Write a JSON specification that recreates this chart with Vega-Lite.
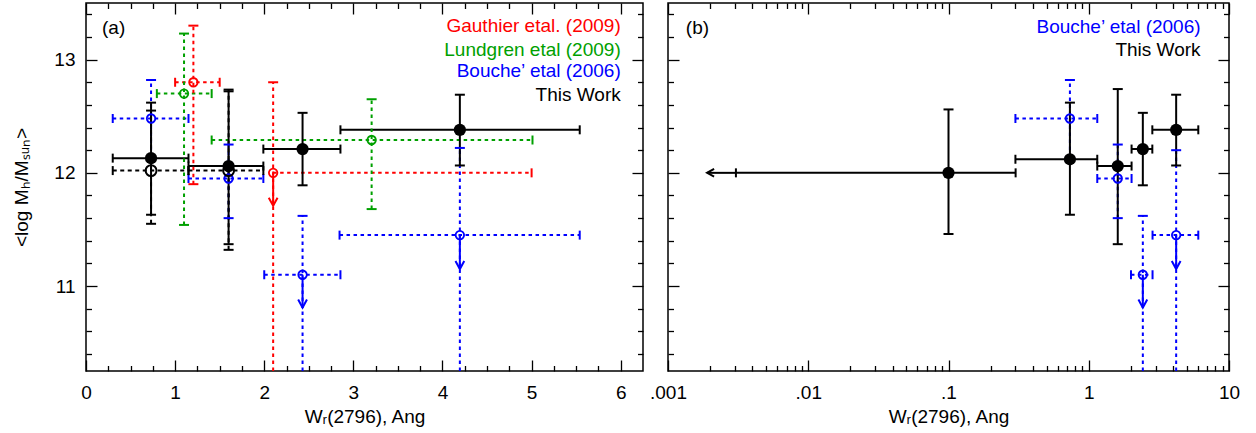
{
  "$schema": "https://vega.github.io/schema/vega-lite/v6.json",
  "padding": {"left": 12, "top": 1, "right": 5, "bottom": 2},
  "background": "white",
  "config": {
    "view": {"stroke": "black", "strokeWidth": 1.5},
    "font": "Liberation Sans",
    "text": {"font": "Liberation Sans", "fontWeight": "normal"},
    "axis": {"domain": false, "grid": false, "labelFont": "Liberation Sans", "labelFontSize": 19, "labelColor": "black", "titleFont": "Liberation Sans", "titleFontSize": 19, "titleFontWeight": "normal", "titleColor": "black", "tickColor": "black", "tickWidth": 1.3, "labelFlush": false, "labelOverlap": false}
  },
  "datasets": {
    "a": [
      {"s": "G", "x": 1.205, "y": 12.80, "xlo": 1.0, "xhi": 1.5, "ylo": 11.90, "yhi": 13.30},
      {"s": "G", "x": 2.10, "y": 12.00, "xlo": 2.10, "xhi": 5.0, "ylo": 10.25, "yhi": 12.80, "ylim": 11.71},
      {"s": "L", "x": 1.10, "y": 12.70, "xlo": 0.795, "xhi": 1.41, "ylo": 11.54, "yhi": 13.23},
      {"s": "L", "x": 3.205, "y": 12.29, "xlo": 1.41, "xhi": 5.01, "ylo": 11.68, "yhi": 12.65},
      {"s": "B", "x": 0.73, "y": 12.48, "xlo": 0.30, "xhi": 1.15, "ylo": 12.14, "yhi": 12.82},
      {"s": "B", "x": 1.60, "y": 11.95, "xlo": 1.15, "xhi": 1.99, "ylo": 11.60, "yhi": 12.25},
      {"s": "B", "x": 2.43, "y": 11.10, "xlo": 2.0, "xhi": 2.855, "ylo": 10.25, "yhi": 11.62, "ylim": 10.81},
      {"s": "B", "x": 4.195, "y": 11.45, "xlo": 2.845, "xhi": 5.54, "ylo": 10.25, "yhi": 12.22, "ylim": 11.15},
      {"s": "O", "x": 0.73, "y": 12.02, "xlo": 0.30, "xhi": 1.15, "ylo": 11.55, "yhi": 12.55},
      {"s": "O", "x": 1.60, "y": 12.02, "xlo": 1.15, "xhi": 1.99, "ylo": 11.32, "yhi": 12.72},
      {"s": "T", "x": 0.73, "y": 12.13, "xlo": 0.30, "xhi": 1.15, "ylo": 11.63, "yhi": 12.62},
      {"s": "T", "x": 1.60, "y": 12.06, "xlo": 1.15, "xhi": 1.99, "ylo": 11.37, "yhi": 12.735},
      {"s": "T", "x": 2.43, "y": 12.21, "xlo": 1.99, "xhi": 2.855, "ylo": 11.89, "yhi": 12.53},
      {"s": "T", "x": 4.195, "y": 12.38, "xlo": 2.855, "xhi": 5.54, "ylo": 12.065, "yhi": 12.69}
    ],
    "b": [
      {"s": "B", "x": 0.734, "y": 12.48, "xlo": 0.30, "xhi": 1.15, "ylo": 12.14, "yhi": 12.82},
      {"s": "B", "x": 1.61, "y": 11.95, "xlo": 1.15, "xhi": 2.02, "ylo": 11.60, "yhi": 12.25},
      {"s": "B", "x": 2.43, "y": 11.10, "xlo": 2.0, "xhi": 2.85, "ylo": 10.25, "yhi": 11.62, "ylim": 10.81},
      {"s": "B", "x": 4.2, "y": 11.45, "xlo": 2.85, "xhi": 6.04, "ylo": 10.25, "yhi": 12.20, "ylim": 11.15},
      {"s": "T", "x": 0.1, "y": 12.0, "xlo": 0.00305, "xhi": 0.301, "ylo": 11.46, "yhi": 12.56, "xlim": 0.0019},
      {"s": "T", "x": 0.734, "y": 12.12, "xlo": 0.30, "xhi": 1.15, "ylo": 11.63, "yhi": 12.62},
      {"s": "T", "x": 1.61, "y": 12.06, "xlo": 1.15, "xhi": 2.02, "ylo": 11.37, "yhi": 12.74},
      {"s": "T", "x": 2.43, "y": 12.21, "xlo": 2.02, "xhi": 2.84, "ylo": 11.89, "yhi": 12.53},
      {"s": "T", "x": 4.2, "y": 12.38, "xlo": 2.84, "xhi": 6.04, "ylo": 12.065, "yhi": 12.69}
    ],
    "one": [{}]
  },
  "spacing": 25,
  "bounds": "flush",
  "hconcat": [
    {
      "width": 557,
      "height": 368,
      "data": {"name": "a"},
      "resolve": {"axis": {"x": "independent", "y": "independent"}},
      "layer": [
        {
          "mark": {"type": "rule", "strokeWidth": 2},
          "encoding": {
            "x": {"field": "xlo", "type": "quantitative", "scale": {"domain": [0, 6.25], "nice": false, "zero": false}, "axis": {"orient": "bottom", "values": [0, 1, 2, 3, 4, 5, 6], "format": "d", "ticks": false, "labelPadding": 12, "title": "Wᵣ(2796), Ang", "titlePadding": 5}},
            "x2": {"field": "xhi"},
            "y": {"field": "y", "type": "quantitative", "scale": {"domain": [10.25, 13.5], "nice": false, "zero": false}, "axis": {"orient": "left", "values": [11, 12, 13], "ticks": false, "labelPadding": 11, "title": "<log Mₕ/Mₛᵤₙ>", "titlePadding": 22}},
            "color": {"field": "s", "type": "nominal", "scale": {"domain": ["G", "L", "B", "O", "T"], "range": ["#ff0000", "#00a000", "#0000ff", "#000000", "#000000"]}, "legend": null},
            "strokeDash": {"field": "s", "type": "nominal", "scale": {"domain": ["G", "L", "B", "O", "T"], "range": [[3.5, 3.5], [3.5, 3.5], [3.5, 3.5], [4, 3.5], [1, 0]]}, "legend": null}
          }
        },
        {
          "mark": {"type": "rule", "strokeWidth": 2},
          "encoding": {
            "x": {"field": "x", "type": "quantitative", "scale": {"domain": [0, 6.25], "nice": false, "zero": false}, "axis": {"orient": "bottom", "values": [0, 1, 2, 3, 4, 5, 6], "labels": false, "tickSize": -11, "title": null}},
            "y": {"field": "ylo", "type": "quantitative", "scale": {"domain": [10.25, 13.5], "nice": false, "zero": false}, "axis": {"orient": "left", "values": [11, 12, 13], "labels": false, "tickSize": -11, "title": null}},
            "y2": {"field": "yhi"},
            "color": {"field": "s", "type": "nominal", "scale": {"domain": ["G", "L", "B", "O", "T"], "range": ["#ff0000", "#00a000", "#0000ff", "#000000", "#000000"]}, "legend": null},
            "strokeDash": {"field": "s", "type": "nominal", "scale": {"domain": ["G", "L", "B", "O", "T"], "range": [[2, 2.5], [2, 2.5], [2, 2.5], [4, 3], [1, 0]]}, "legend": null}
          }
        },
        {
          "transform": [{"fold": ["xlo", "xhi"], "as": ["k", "xe"]}, {"filter": "datum.xe != datum.x"}],
          "mark": {"type": "tick", "orient": "vertical", "size": 9, "thickness": 2, "opacity": 1},
          "encoding": {
            "x": {"field": "xe", "type": "quantitative", "scale": {"domain": [0, 6.25], "nice": false, "zero": false}, "axis": {"orient": "bottom", "values": [0.25, 0.5, 0.75, 1.25, 1.5, 1.75, 2.25, 2.5, 2.75, 3.25, 3.5, 3.75, 4.25, 4.5, 4.75, 5.25, 5.5, 5.75], "labels": false, "tickSize": -5.5, "title": null}},
            "y": {"field": "y", "type": "quantitative", "scale": {"domain": [10.25, 13.5], "nice": false, "zero": false}, "axis": {"orient": "left", "values": [10.4, 10.6, 10.8, 11.2, 11.4, 11.6, 11.8, 12.2, 12.4, 12.6, 12.8, 13.2, 13.4], "labels": false, "tickSize": -5.5, "title": null}},
            "color": {"field": "s", "type": "nominal", "scale": {"domain": ["G", "L", "B", "O", "T"], "range": ["#ff0000", "#00a000", "#0000ff", "#000000", "#000000"]}, "legend": null}
          }
        },
        {
          "transform": [{"fold": ["ylo", "yhi"], "as": ["k", "ye"]}, {"filter": "datum.ye > 10.3"}],
          "mark": {"type": "tick", "orient": "horizontal", "size": 10, "thickness": 2, "opacity": 1},
          "encoding": {
            "x": {"field": "x", "type": "quantitative", "scale": {"domain": [0, 6.25], "nice": false, "zero": false}, "axis": {"orient": "top", "values": [0, 1, 2, 3, 4, 5, 6], "labels": false, "tickSize": -11, "title": null}},
            "y": {"field": "ye", "type": "quantitative", "scale": {"domain": [10.25, 13.5], "nice": false, "zero": false}, "axis": {"orient": "right", "values": [11, 12, 13], "labels": false, "tickSize": -11, "title": null}},
            "color": {"field": "s", "type": "nominal", "scale": {"domain": ["G", "L", "B", "O", "T"], "range": ["#ff0000", "#00a000", "#0000ff", "#000000", "#000000"]}, "legend": null}
          }
        },
        {
          "transform": [{"filter": "isValid(datum.ylim)"}],
          "mark": {"type": "rule", "strokeWidth": 2},
          "encoding": {
            "x": {"field": "x", "type": "quantitative", "scale": {"domain": [0, 6.25], "nice": false, "zero": false}, "axis": {"orient": "top", "values": [0.25, 0.5, 0.75, 1.25, 1.5, 1.75, 2.25, 2.5, 2.75, 3.25, 3.5, 3.75, 4.25, 4.5, 4.75, 5.25, 5.5, 5.75], "labels": false, "tickSize": -5.5, "title": null}},
            "y": {"field": "y", "type": "quantitative", "scale": {"domain": [10.25, 13.5], "nice": false, "zero": false}, "axis": {"orient": "right", "values": [10.4, 10.6, 10.8, 11.2, 11.4, 11.6, 11.8, 12.2, 12.4, 12.6, 12.8, 13.2, 13.4], "labels": false, "tickSize": -5.5, "title": null}},
            "y2": {"field": "ylim"},
            "color": {"field": "s", "type": "nominal", "scale": {"domain": ["G", "L", "B", "O", "T"], "range": ["#ff0000", "#00a000", "#0000ff", "#000000", "#000000"]}, "legend": null}
          }
        },
        {
          "transform": [{"filter": "isValid(datum.ylim)"}],
          "mark": {"type": "point", "shape": "M-0.55,-1L0,0L0.55,-1", "filled": false, "strokeWidth": 2, "size": 256, "opacity": 1},
          "encoding": {
            "x": {"field": "x", "type": "quantitative", "scale": {"domain": [0, 6.25], "nice": false, "zero": false}, "axis": null},
            "y": {"field": "ylim", "type": "quantitative", "scale": {"domain": [10.25, 13.5], "nice": false, "zero": false}, "axis": null},
            "color": {"field": "s", "type": "nominal", "scale": {"domain": ["G", "L", "B", "O", "T"], "range": ["#ff0000", "#00a000", "#0000ff", "#000000", "#000000"]}, "legend": null}
          }
        },
        {
          "transform": [{"filter": "datum.s == 'G' || datum.s == 'L' || datum.s == 'B'"}],
          "mark": {"type": "point", "shape": "circle", "filled": false, "strokeWidth": 1.8, "size": 72, "opacity": 1},
          "encoding": {
            "x": {"field": "x", "type": "quantitative", "scale": {"domain": [0, 6.25], "nice": false, "zero": false}, "axis": null},
            "y": {"field": "y", "type": "quantitative", "scale": {"domain": [10.25, 13.5], "nice": false, "zero": false}, "axis": null},
            "color": {"field": "s", "type": "nominal", "scale": {"domain": ["G", "L", "B", "O", "T"], "range": ["#ff0000", "#00a000", "#0000ff", "#000000", "#000000"]}, "legend": null}
          }
        },
        {
          "transform": [{"filter": "datum.s == 'O'"}],
          "mark": {"type": "point", "shape": "circle", "filled": false, "strokeWidth": 2, "size": 119, "opacity": 1, "color": "black"},
          "encoding": {
            "x": {"field": "x", "type": "quantitative", "scale": {"domain": [0, 6.25], "nice": false, "zero": false}, "axis": null},
            "y": {"field": "y", "type": "quantitative", "scale": {"domain": [10.25, 13.5], "nice": false, "zero": false}, "axis": null}
          }
        },
        {
          "transform": [{"filter": "datum.s == 'T'"}],
          "mark": {"type": "point", "shape": "circle", "filled": true, "size": 150, "opacity": 1, "color": "black"},
          "encoding": {
            "x": {"field": "x", "type": "quantitative", "scale": {"domain": [0, 6.25], "nice": false, "zero": false}, "axis": null},
            "y": {"field": "y", "type": "quantitative", "scale": {"domain": [10.25, 13.5], "nice": false, "zero": false}, "axis": null}
          }
        },
        {
          "data": {"name": "one"},
          "mark": {"type": "text", "align": "left", "baseline": "middle", "fontSize": 19, "fill": "black", "text": "(a)"},
          "encoding": {
            "x": {"datum": 0.18, "type": "quantitative", "scale": {"domain": [0, 6.25], "nice": false, "zero": false}, "axis": null},
            "y": {"datum": 13.28, "type": "quantitative", "scale": {"domain": [10.25, 13.5], "nice": false, "zero": false}, "axis": null}
          }
        },
        {
          "data": {"name": "one"},
          "mark": {"type": "text", "align": "right", "baseline": "middle", "fontSize": 19, "fill": "#ff0000", "text": "Gauthier etal. (2009)"},
          "encoding": {
            "x": {"datum": 6.0, "type": "quantitative", "scale": {"domain": [0, 6.25], "nice": false, "zero": false}, "axis": null},
            "y": {"datum": 13.30, "type": "quantitative", "scale": {"domain": [10.25, 13.5], "nice": false, "zero": false}, "axis": null}
          }
        },
        {
          "data": {"name": "one"},
          "mark": {"type": "text", "align": "right", "baseline": "middle", "fontSize": 19, "fill": "#00a000", "text": "Lundgren etal (2009)"},
          "encoding": {
            "x": {"datum": 6.0, "type": "quantitative", "scale": {"domain": [0, 6.25], "nice": false, "zero": false}, "axis": null},
            "y": {"datum": 13.088, "type": "quantitative", "scale": {"domain": [10.25, 13.5], "nice": false, "zero": false}, "axis": null}
          }
        },
        {
          "data": {"name": "one"},
          "mark": {"type": "text", "align": "right", "baseline": "middle", "fontSize": 19, "fill": "#0000ff", "text": "Bouche’ etal (2006)"},
          "encoding": {
            "x": {"datum": 6.0, "type": "quantitative", "scale": {"domain": [0, 6.25], "nice": false, "zero": false}, "axis": null},
            "y": {"datum": 12.897, "type": "quantitative", "scale": {"domain": [10.25, 13.5], "nice": false, "zero": false}, "axis": null}
          }
        },
        {
          "data": {"name": "one"},
          "mark": {"type": "text", "align": "right", "baseline": "middle", "fontSize": 19, "fill": "black", "text": "This Work"},
          "encoding": {
            "x": {"datum": 6.0, "type": "quantitative", "scale": {"domain": [0, 6.25], "nice": false, "zero": false}, "axis": null},
            "y": {"datum": 12.69, "type": "quantitative", "scale": {"domain": [10.25, 13.5], "nice": false, "zero": false}, "axis": null}
          }
        }
      ]
    },
    {
      "width": 561,
      "height": 368,
      "data": {"name": "b"},
      "resolve": {"axis": {"x": "independent", "y": "independent"}},
      "layer": [
        {
          "mark": {"type": "rule", "strokeWidth": 2},
          "encoding": {
            "x": {"field": "xlo", "type": "quantitative", "scale": {"type": "log", "domain": [0.001, 10], "nice": false}, "axis": {"orient": "bottom", "values": [0.001, 0.01, 0.1, 1, 10], "labelExpr": "datum.value < 0.005 ? '.001' : datum.value < 0.05 ? '.01' : datum.value < 0.5 ? '.1' : datum.value < 5 ? '1' : '10'", "ticks": false, "labelPadding": 12, "title": "Wᵣ(2796), Ang", "titlePadding": 5}},
            "x2": {"field": "xhi"},
            "y": {"field": "y", "type": "quantitative", "scale": {"domain": [10.25, 13.5], "nice": false, "zero": false}, "axis": null},
            "color": {"field": "s", "type": "nominal", "scale": {"domain": ["G", "L", "B", "O", "T"], "range": ["#ff0000", "#00a000", "#0000ff", "#000000", "#000000"]}, "legend": null},
            "strokeDash": {"field": "s", "type": "nominal", "scale": {"domain": ["G", "L", "B", "O", "T"], "range": [[3.5, 3.5], [3.5, 3.5], [3.5, 3.5], [4, 3.5], [1, 0]]}, "legend": null}
          }
        },
        {
          "mark": {"type": "rule", "strokeWidth": 2},
          "encoding": {
            "x": {"field": "x", "type": "quantitative", "scale": {"type": "log", "domain": [0.001, 10], "nice": false}, "axis": {"orient": "bottom", "values": [0.001, 0.01, 0.1, 1, 10], "labels": false, "tickSize": -11, "title": null}},
            "y": {"field": "ylo", "type": "quantitative", "scale": {"domain": [10.25, 13.5], "nice": false, "zero": false}, "axis": {"orient": "left", "values": [11, 12, 13], "labels": false, "tickSize": -11, "title": null}},
            "y2": {"field": "yhi"},
            "color": {"field": "s", "type": "nominal", "scale": {"domain": ["G", "L", "B", "O", "T"], "range": ["#ff0000", "#00a000", "#0000ff", "#000000", "#000000"]}, "legend": null},
            "strokeDash": {"field": "s", "type": "nominal", "scale": {"domain": ["G", "L", "B", "O", "T"], "range": [[2, 2.5], [2, 2.5], [2, 2.5], [4, 3], [1, 0]]}, "legend": null}
          }
        },
        {
          "transform": [{"fold": ["xlo", "xhi"], "as": ["k", "xe"]}, {"filter": "datum.xe != datum.x"}],
          "mark": {"type": "tick", "orient": "vertical", "size": 9, "thickness": 2, "opacity": 1},
          "encoding": {
            "x": {"field": "xe", "type": "quantitative", "scale": {"type": "log", "domain": [0.001, 10], "nice": false}, "axis": {"orient": "bottom", "values": [0.002, 0.003, 0.004, 0.005, 0.006, 0.007, 0.008, 0.009, 0.02, 0.03, 0.04, 0.05, 0.06, 0.07, 0.08, 0.09, 0.2, 0.3, 0.4, 0.5, 0.6, 0.7, 0.8, 0.9, 2, 3, 4, 5, 6, 7, 8, 9], "labels": false, "tickSize": -5.5, "title": null}},
            "y": {"field": "y", "type": "quantitative", "scale": {"domain": [10.25, 13.5], "nice": false, "zero": false}, "axis": {"orient": "left", "values": [10.4, 10.6, 10.8, 11.2, 11.4, 11.6, 11.8, 12.2, 12.4, 12.6, 12.8, 13.2, 13.4], "labels": false, "tickSize": -5.5, "title": null}},
            "color": {"field": "s", "type": "nominal", "scale": {"domain": ["G", "L", "B", "O", "T"], "range": ["#ff0000", "#00a000", "#0000ff", "#000000", "#000000"]}, "legend": null}
          }
        },
        {
          "transform": [{"fold": ["ylo", "yhi"], "as": ["k", "ye"]}, {"filter": "datum.ye > 10.3"}],
          "mark": {"type": "tick", "orient": "horizontal", "size": 10, "thickness": 2, "opacity": 1},
          "encoding": {
            "x": {"field": "x", "type": "quantitative", "scale": {"type": "log", "domain": [0.001, 10], "nice": false}, "axis": {"orient": "top", "values": [0.001, 0.01, 0.1, 1, 10], "labels": false, "tickSize": -11, "title": null}},
            "y": {"field": "ye", "type": "quantitative", "scale": {"domain": [10.25, 13.5], "nice": false, "zero": false}, "axis": {"orient": "right", "values": [11, 12, 13], "labels": false, "tickSize": -11, "title": null}},
            "color": {"field": "s", "type": "nominal", "scale": {"domain": ["G", "L", "B", "O", "T"], "range": ["#ff0000", "#00a000", "#0000ff", "#000000", "#000000"]}, "legend": null}
          }
        },
        {
          "transform": [{"filter": "isValid(datum.ylim)"}],
          "mark": {"type": "rule", "strokeWidth": 2},
          "encoding": {
            "x": {"field": "x", "type": "quantitative", "scale": {"type": "log", "domain": [0.001, 10], "nice": false}, "axis": {"orient": "top", "values": [0.002, 0.003, 0.004, 0.005, 0.006, 0.007, 0.008, 0.009, 0.02, 0.03, 0.04, 0.05, 0.06, 0.07, 0.08, 0.09, 0.2, 0.3, 0.4, 0.5, 0.6, 0.7, 0.8, 0.9, 2, 3, 4, 5, 6, 7, 8, 9], "labels": false, "tickSize": -5.5, "title": null}},
            "y": {"field": "y", "type": "quantitative", "scale": {"domain": [10.25, 13.5], "nice": false, "zero": false}, "axis": {"orient": "right", "values": [10.4, 10.6, 10.8, 11.2, 11.4, 11.6, 11.8, 12.2, 12.4, 12.6, 12.8, 13.2, 13.4], "labels": false, "tickSize": -5.5, "title": null}},
            "y2": {"field": "ylim"},
            "color": {"field": "s", "type": "nominal", "scale": {"domain": ["G", "L", "B", "O", "T"], "range": ["#ff0000", "#00a000", "#0000ff", "#000000", "#000000"]}, "legend": null}
          }
        },
        {
          "transform": [{"filter": "isValid(datum.ylim)"}],
          "mark": {"type": "point", "shape": "M-0.55,-1L0,0L0.55,-1", "filled": false, "strokeWidth": 2, "size": 256, "opacity": 1},
          "encoding": {
            "x": {"field": "x", "type": "quantitative", "scale": {"type": "log", "domain": [0.001, 10], "nice": false}, "axis": null},
            "y": {"field": "ylim", "type": "quantitative", "scale": {"domain": [10.25, 13.5], "nice": false, "zero": false}, "axis": null},
            "color": {"field": "s", "type": "nominal", "scale": {"domain": ["G", "L", "B", "O", "T"], "range": ["#ff0000", "#00a000", "#0000ff", "#000000", "#000000"]}, "legend": null}
          }
        },
        {
          "transform": [{"filter": "isValid(datum.xlim)"}],
          "mark": {"type": "rule", "strokeWidth": 2, "color": "black"},
          "encoding": {
            "x": {"field": "xlim", "type": "quantitative", "scale": {"type": "log", "domain": [0.001, 10], "nice": false}, "axis": null},
            "x2": {"field": "xlo"},
            "y": {"field": "y", "type": "quantitative", "scale": {"domain": [10.25, 13.5], "nice": false, "zero": false}, "axis": null}
          }
        },
        {
          "transform": [{"filter": "isValid(datum.xlim)"}],
          "mark": {"type": "point", "shape": "M1,-0.55L0,0L1,0.55", "filled": false, "strokeWidth": 2, "size": 196, "opacity": 1, "color": "black"},
          "encoding": {
            "x": {"field": "xlim", "type": "quantitative", "scale": {"type": "log", "domain": [0.001, 10], "nice": false}, "axis": null},
            "y": {"field": "y", "type": "quantitative", "scale": {"domain": [10.25, 13.5], "nice": false, "zero": false}, "axis": null}
          }
        },
        {
          "transform": [{"filter": "datum.s == 'B'"}],
          "mark": {"type": "point", "shape": "circle", "filled": false, "strokeWidth": 1.8, "size": 72, "opacity": 1, "color": "#0000ff"},
          "encoding": {
            "x": {"field": "x", "type": "quantitative", "scale": {"type": "log", "domain": [0.001, 10], "nice": false}, "axis": null},
            "y": {"field": "y", "type": "quantitative", "scale": {"domain": [10.25, 13.5], "nice": false, "zero": false}, "axis": null}
          }
        },
        {
          "transform": [{"filter": "datum.s == 'T'"}],
          "mark": {"type": "point", "shape": "circle", "filled": true, "size": 150, "opacity": 1, "color": "black"},
          "encoding": {
            "x": {"field": "x", "type": "quantitative", "scale": {"type": "log", "domain": [0.001, 10], "nice": false}, "axis": null},
            "y": {"field": "y", "type": "quantitative", "scale": {"domain": [10.25, 13.5], "nice": false, "zero": false}, "axis": null}
          }
        },
        {
          "data": {"name": "one"},
          "mark": {"type": "text", "align": "left", "baseline": "middle", "fontSize": 19, "fill": "black", "text": "(b)"},
          "encoding": {
            "x": {"datum": 0.00134, "type": "quantitative", "scale": {"type": "log", "domain": [0.001, 10], "nice": false}, "axis": null},
            "y": {"datum": 13.28, "type": "quantitative", "scale": {"domain": [10.25, 13.5], "nice": false, "zero": false}, "axis": null}
          }
        },
        {
          "data": {"name": "one"},
          "mark": {"type": "text", "align": "right", "baseline": "middle", "fontSize": 19, "fill": "#0000ff", "text": "Bouche’ etal (2006)"},
          "encoding": {
            "x": {"datum": 6.27, "type": "quantitative", "scale": {"type": "log", "domain": [0.001, 10], "nice": false}, "axis": null},
            "y": {"datum": 13.29, "type": "quantitative", "scale": {"domain": [10.25, 13.5], "nice": false, "zero": false}, "axis": null}
          }
        },
        {
          "data": {"name": "one"},
          "mark": {"type": "text", "align": "right", "baseline": "middle", "fontSize": 19, "fill": "black", "text": "This Work"},
          "encoding": {
            "x": {"datum": 6.27, "type": "quantitative", "scale": {"type": "log", "domain": [0.001, 10], "nice": false}, "axis": null},
            "y": {"datum": 13.088, "type": "quantitative", "scale": {"domain": [10.25, 13.5], "nice": false, "zero": false}, "axis": null}
          }
        }
      ]
    }
  ]
}
